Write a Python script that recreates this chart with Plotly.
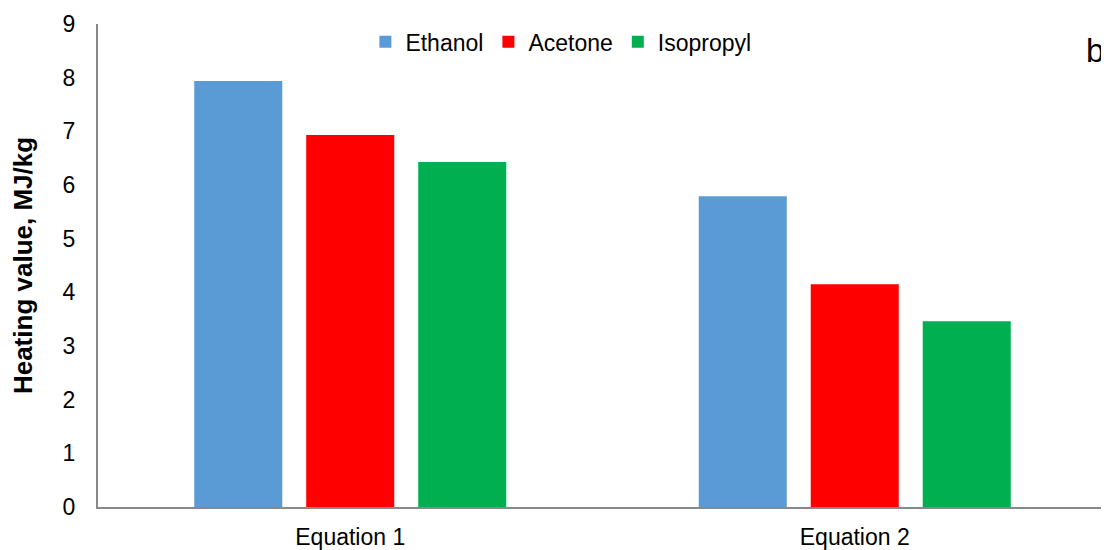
import plotly.graph_objects as go

categories = ["Equation 1", "Equation 2"]
series_names = ["Ethanol", "Acetone", "Isopropyl"]
ethanol = [7.94, 5.79]
acetone = [6.93, 4.15]
isopropyl = [6.43, 3.46]
colors = ["#5B9BD5", "#FF0000", "#00B050"]
y_ticks = [0, 1, 2, 3, 4, 5, 6, 7, 8, 9]

fig = go.Figure()
for name, vals, c in zip(series_names, [ethanol, acetone, isopropyl], colors):
    fig.add_trace(go.Bar(x=categories, y=vals, name=name, marker=dict(color=c, line=dict(width=0))))

# page body has an 8px margin, so the figure is 8px smaller and margins shifted
fig.update_layout(
    width=1101, height=542,
    margin=dict(l=90, r=2, t=16, b=43),
    plot_bgcolor="white", paper_bgcolor="white",
    font=dict(family="Liberation Sans, Arial, sans-serif", color="black"),
    barmode="group", bargap=0.334, bargroupgap=0.214,
    legend=dict(orientation="h", x=0.265, y=0.963, xanchor="left", yanchor="middle",
                font=dict(size=23), itemwidth=30, tracegroupgap=0, bgcolor="rgba(0,0,0,0)"),
    showlegend=True,
)
fig.update_yaxes(range=[0, 9], tickvals=y_ticks, showgrid=False, zeroline=False,
                 showline=True, linecolor="#898989", linewidth=2, automargin=False,
                 ticks="", tickfont=dict(size=23), ticklabelstandoff=16,
                 title=dict(text="<b>Heating value, MJ/kg</b>", font=dict(size=26), standoff=26))
fig.update_xaxes(showgrid=False, showline=True, linecolor="#898989", linewidth=2, automargin=False,
                 ticks="", tickfont=dict(size=23), ticklabelstandoff=8)
fig.add_annotation(text="b", xref="paper", yref="paper", x=0.988, y=0.946, showarrow=False,
                   font=dict(size=33), xanchor="center", yanchor="middle")
fig.write_html("out.html")
